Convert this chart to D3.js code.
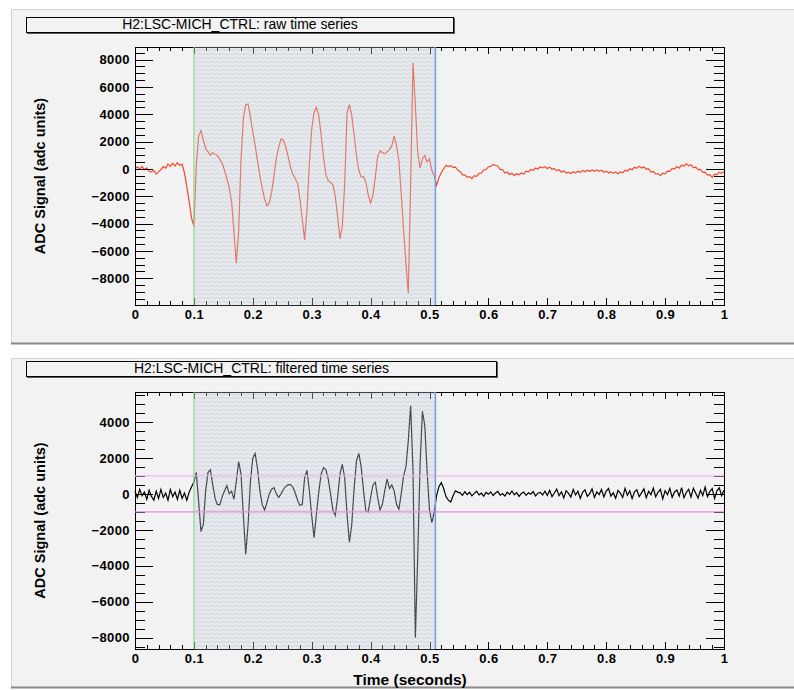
<!DOCTYPE html>
<html>
<head>
<meta charset="utf-8">
<script src="https://cdn.jsdelivr.net/npm/d3@7"></script>
<style>
  body { margin: 0; background: #ffffff; }
  text { font-family: "Liberation Sans", Arial, Helvetica, sans-serif; }
</style>
</head>
<body>
<div id="main"></div>
<script>
// sample spacing of both series (seconds)
var sampleStep = 0.004;

// H2:LSC-MICH_CTRL raw time series, adc units, one value per sample
var rawValues = [
  30, 140, 20, 170, -60, 80, -190, -210, -120, -380,
  -200, -60, 170, 60, 350, 180, 420, 210, 450, 260,
  330, -300, -1300, -2400, -3600, -4200, 200, 2400, 2800, 2100,
  1500, 1250, 1000, 1200, 1050, 980, 700, 420, -100, -700,
  -1400, -2400, -4600, -6900, -4600, 700, 3700, 4700, 4750, 3800,
  2700, 1700, 600, -500, -1400, -2200, -2700, -2500, -1700, -500,
  800, 1600, 2200, 2100, 1600, 900, 120, -400, -700, -1050,
  -2200, -3700, -5200, -3000, 400, 2900, 4100, 4500, 3900, 2500,
  900, -400, -850, -1000, -1150, -2000, -3500, -5100, -4200, -1100,
  4100, 4700, 3900, 2500, 1000, -100, -600, -550, -1000, -1900,
  -2500, -1900, -600, 900, 1300, 1200, 1100, 1250, 1400, 1700,
  2400, 1700, 600, -1800, -4500, -6900, -9100, -1000, 7750, 4600,
  1200, 50, 730, 970, 500, 730, -100, -500, -1200, -650,
  -280, 10, 270, 170, 240, 110, 130, -90, -190, -440,
  -430, -610, -560, -720, -500, -540, -320, -310, -60, -50,
  160, 180, 330, 250, 210, -60, -60, -300, -230, -420,
  -320, -480, -350, -430, -300, -380, -170, -210, -40, -110,
  60, -10, 140, 70, 160, 30, 130, -30, 20, -130,
  -60, -240, -140, -310, -240, -340, -210, -290, -170, -260,
  -110, -210, -90, -180, -80, -170, -70, -180, -100, -240,
  -160, -300, -200, -330, -230, -360, -220, -280, -90, -150,
  10, -60, 120, 40, 190, 60, 140, -10, 0, -230,
  -180, -380, -340, -490, -320, -360, -160, -180, 30, -20,
  170, 60, 290, 200, 370, 220, 310, 90, 130, -60,
  -30, -260, -230, -460, -430, -620, -390, -420, -240, -320,
  -200
];

// H2:LSC-MICH_CTRL filtered time series, adc units
var filteredValues = [
  150, -200, 250, -100, 100, -300, 200, -150, -350, 150,
  -250, 250, -200, 50, -350, 250, -150, 100, -300, 200,
  -250, 50, -350, 100, 400, 650, 1200, -400, -2100, -1700,
  200, 1200, 1350, 500, -250, -600, -600, -150, 170, 450,
  0, 150, -300, 700, 1800, 1100, -1200, -3360, -1700, 700,
  2000, 2250, 1400, 200, -600, -900, -480, 0, 260, 350,
  0, -200, 0, 260, 420, 500, 520, 380, 50, -350,
  -650, -600, 900, 1300, 200, -1200, -2430, -1130, 100, 1100,
  1450, 1350, 850, 0, -900, -1200, -200, 1100, 1650, 900,
  -1130, -2700, -1700, 300, 1840, 2250, 1500, 170, -950, -1000,
  -200, 500, 650, -200, -900, -580, 170, 820, 300, 500,
  170, -580, -850, 0, 1000, 1500, 2950, 4900, 1300, -8000,
  -3500, 1650, 4600, 3800, 1200, -900, -1600, -1000, -100, 400,
  630, 300, -150, -350, -450, -100, 170, 100,
  60, -80, 120, -40, 90, -110, 30, 150, -60, 40, -130, 80,
  -20, 110, -90, 50, 140, -70, 20, -120, 90, -30, 160, -50,
  70, -140, 30, 100, -80, 60, -20, 130, -110, 40, 80, -60, 150, -90,
  200, -150, 50, 260, -100, 120, -220, 180, 30, -180, 240, -60, 150, -250, 90,
  220, -130, 20, 280, -200, 110, -40, 250, -170, 160, 300, -120, 60, -240, 190,
  40, -200, 310, -80, 170, -260, 120, 230, -150, 60, 280, -220, 140, -50, 330,
  -160, 90, 250, -280, 180, -40, 300, -190, 110, 220, -120, 350, -210, 80, 260,
  -170, 320, 40, -230, 200, -90, 380, -150, 130, 290, -260, 170, 340, -100, 220
];

var xTickValues = [0, 0.1, 0.2, 0.3, 0.4, 0.5, 0.6, 0.7, 0.8, 0.9, 1];
var xTickLabels = ["0", "0.1", "0.2", "0.3", "0.4", "0.5", "0.6", "0.7", "0.8", "0.9", "1"];
var rawYTicks = [-8000, -6000, -4000, -2000, 0, 2000, 4000, 6000, 8000];
var filteredYTicks = [-8000, -6000, -4000, -2000, 0, 2000, 4000];
var rawYRange = [-9960, 8920];
var filteredYRange = [-8630, 5670];
var shadedSpan = [0.1, 0.51];
var thresholdLevels = [1000, -1000];
var panelTitles = ["H2:LSC-MICH_CTRL: raw time series", "H2:LSC-MICH_CTRL: filtered time series"];

var W = 794, H = 690;
var svg = d3.select("#main").append("svg").attr("width", W).attr("height", H);

var defs = svg.append("defs");
var pat = defs.append("pattern").attr("id", "hatch")
  .attr("patternUnits", "userSpaceOnUse").attr("width", 6).attr("height", 4);
pat.append("rect").attr("width", 6).attr("height", 4).attr("fill", "rgba(205,216,224,0.3)");
pat.append("path").attr("d", "M0,2 Q1.5,0.5 3,2 T6,2")
  .attr("fill", "none").attr("stroke", "rgba(160,174,184,0.45)").attr("stroke-width", 0.8);

function drawPanel(p) {
  // pad background with bevel
  var g = svg.append("g");
  g.append("rect").attr("x", 11).attr("y", p.padTop).attr("width", W - 11).attr("height", p.padBottom - p.padTop)
    .attr("fill", "#f2f2f2");
  g.append("line").attr("x1", 11).attr("x2", W).attr("y1", p.padTop + 0.5).attr("y2", p.padTop + 0.5)
    .attr("stroke", "#d4d4d4");
  g.append("line").attr("x1", 11.5).attr("x2", 11.5).attr("y1", p.padTop).attr("y2", p.padBottom)
    .attr("stroke", "#d4d4d4");
  g.append("line").attr("x1", 11).attr("x2", W).attr("y1", p.padBottom - 0.5).attr("y2", p.padBottom - 0.5)
    .attr("stroke", "#8a8a8a").attr("stroke-width", 2);

  var x = d3.scaleLinear().domain([0, 1]).range([135, 724]);
  var y = d3.scaleLinear().domain(p.yRange).range([p.bottom, p.top]);

  // title box
  g.append("rect").attr("x", 27).attr("y", p.titleY + 1).attr("width", p.titleW).attr("height", 16)
    .attr("fill", "#5a5a5a");
  g.append("rect").attr("x", 26.5).attr("y", p.titleY + 0.5).attr("width", p.titleW - 1).attr("height", 15)
    .attr("fill", "#f2f2f2").attr("stroke", "#000").attr("stroke-width", 1);
  g.append("text").attr("x", 26 + p.titleW / 2).attr("y", p.titleY + 11.5)
    .attr("text-anchor", "middle").attr("font-size", 14).attr("fill", "#000").text(p.title);

  // data line
  var line = d3.line().x(function(d, i) { return x(i * sampleStep); }).y(function(d) { return y(d); });
  g.append("path").datum(p.values).attr("d", line)
    .attr("fill", "none").attr("stroke", p.color).attr("stroke-width", 1.2);

  // axes, ROOT style ticks pointing inward
  var ax = g.append("g").attr("class", "axes").attr("shape-rendering", "crispEdges");
  var minorY = d3.range(Math.ceil(p.yRange[0] / 500) * 500, p.yRange[1], 500);
  var minorX = d3.range(0, 51).map(function(i) { return i * 0.02; });

  ax.append("g").attr("transform", "translate(135,0)")
    .call(d3.axisLeft(y).tickValues(minorY).tickSizeInner(-10).tickSizeOuter(0).tickFormat(""));
  ax.append("g").attr("transform", "translate(135,0)")
    .call(d3.axisLeft(y).tickValues(p.yTicks).tickSizeInner(-18).tickSizeOuter(0).tickPadding(5)
      .tickFormat(d3.format("d")));
  ax.append("g").attr("transform", "translate(724,0)")
    .call(d3.axisRight(y).tickValues(minorY).tickSizeInner(-10).tickSizeOuter(0).tickFormat(""));
  ax.append("g").attr("transform", "translate(724,0)")
    .call(d3.axisRight(y).tickValues(p.yTicks).tickSizeInner(-18).tickSizeOuter(0).tickFormat(""));
  ax.append("g").attr("transform", "translate(0," + p.bottom + ")")
    .call(d3.axisBottom(x).tickValues(minorX).tickSizeInner(-4).tickSizeOuter(0).tickFormat(""));
  ax.append("g").attr("transform", "translate(0," + p.bottom + ")")
    .call(d3.axisBottom(x).tickValues(xTickValues).tickSizeInner(-7).tickSizeOuter(0).tickPadding(5)
      .tickFormat(function(d, i) { return xTickLabels[i]; }));
  ax.append("g").attr("transform", "translate(0," + p.top + ")")
    .call(d3.axisTop(x).tickValues(minorX).tickSizeInner(-4).tickSizeOuter(0).tickFormat(""));
  ax.append("g").attr("transform", "translate(0," + p.top + ")")
    .call(d3.axisTop(x).tickValues(xTickValues).tickSizeInner(-7).tickSizeOuter(0).tickFormat(""));
  ax.selectAll(".domain").remove();
  ax.selectAll(".tick line").attr("stroke", "#000");
  ax.selectAll(".tick text").attr("font-size", 13).attr("font-weight", "bold").attr("letter-spacing", 0.4)
    .attr("fill", "#000").attr("font-family", "'Liberation Sans', Arial, sans-serif");

  ax.append("rect").attr("x", 135).attr("y", p.top).attr("width", 589).attr("height", p.bottom - p.top)
    .attr("fill", "none").attr("stroke", "#000");

  // shaded window drawn over the trace
  g.append("rect").attr("x", x(shadedSpan[0])).attr("y", p.top - 0.5)
    .attr("width", x(shadedSpan[1]) - x(shadedSpan[0])).attr("height", p.bottom - p.top + 1)
    .attr("fill", "url(#hatch)");

  if (p.thresholds) {
    g.selectAll(".thr").data(p.thresholds).enter().append("line")
      .attr("x1", 135).attr("x2", 724)
      .attr("y1", function(d) { return y(d); }).attr("y2", function(d) { return y(d); })
      .attr("stroke", function(d, i) { return i === 0 ? "#f0b4f0" : "#e38ee6"; })
      .attr("stroke-width", 1.3);
  }

  g.append("line").attr("x1", x(shadedSpan[0])).attr("x2", x(shadedSpan[0]))
    .attr("y1", p.top).attr("y2", p.bottom).attr("stroke", "#7fd67f").attr("stroke-width", 1);
  g.append("line").attr("x1", x(shadedSpan[1])).attr("x2", x(shadedSpan[1]))
    .attr("y1", p.top).attr("y2", p.bottom).attr("stroke", "#6d9de6").attr("stroke-width", 1.5);

  // y axis title
  g.append("text")
    .attr("transform", "translate(45," + ((p.top + p.bottom) / 2) + ") rotate(-90)")
    .attr("text-anchor", "middle").attr("font-size", 14.5).attr("font-weight", "bold")
    .attr("fill", "#000").text("ADC Signal (adc units)");

  if (p.xTitle) {
    g.append("text").attr("x", 410).attr("y", 685).attr("text-anchor", "middle")
      .attr("font-size", 15.5).attr("font-weight", "bold").attr("fill", "#000").text(p.xTitle);
  }
}

drawPanel({
  padTop: 9, padBottom: 344, titleY: 17, titleW: 428, title: panelTitles[0],
  top: 47, bottom: 305, yRange: rawYRange, yTicks: rawYTicks,
  values: rawValues, color: "#f24a2c"
});
drawPanel({
  padTop: 358, padBottom: 688, titleY: 361, titleW: 471, title: panelTitles[1],
  top: 392, bottom: 649, yRange: filteredYRange, yTicks: filteredYTicks,
  values: filteredValues, color: "#000000", thresholds: thresholdLevels, xTitle: "Time (seconds)"
});
</script>
</body>
</html>
